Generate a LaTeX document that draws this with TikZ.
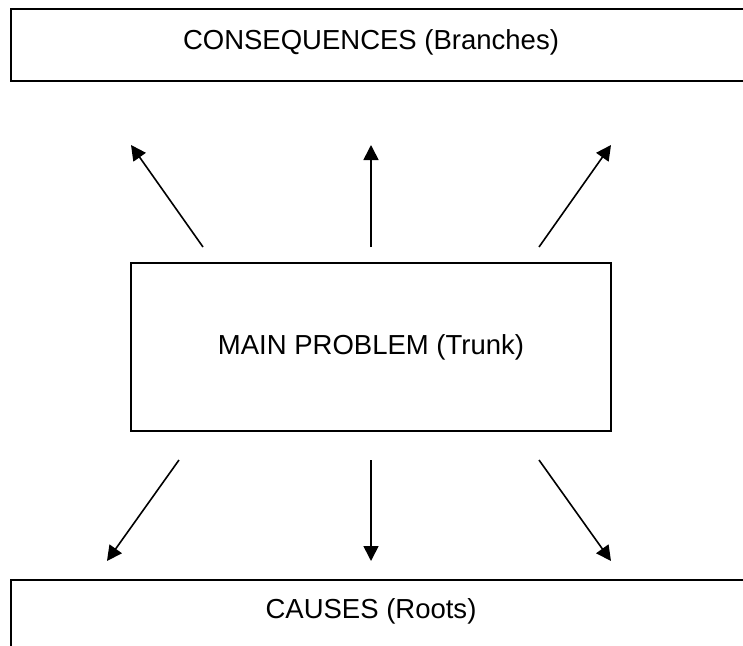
\documentclass[tikz,border=0pt]{standalone}
\usepackage{fontspec}
\setmainfont{Liberation Sans}
\usetikzlibrary{arrows.meta}
\begin{document}
\begin{tikzpicture}[x=1pt,y=-1pt,
  boxframe/.style={draw, line width=1.5pt, inner sep=0pt},
  lbl/.style={font=\fontsize{27.5}{33}\selectfont, inner sep=0pt},
  arr/.style={line width=1.6pt, -{Triangle[length=15pt,width=15pt]}}]
\useasboundingbox (0,0) rectangle (743,645);
\clip (0,0) rectangle (743,645);
% boxes
\node[boxframe, anchor=north west, minimum width=750pt, minimum height=72pt] (cons) at (10,8) {};
\node[lbl] (constext) at (371,42) {CONSEQUENCES (Branches)};
\node[boxframe, lbl, minimum width=480pt, minimum height=168pt] (main) at (371,347) {MAIN PROBLEM (Trunk)};
\node[boxframe, anchor=north west, minimum width=750pt, minimum height=100pt] (causes) at (10,579) {};
\node[lbl] (causestext) at (371,611) {CAUSES (Roots)};
% arrow ends
\coordinate (u1) at (203,247); \coordinate (u1t) at (131,145);
\coordinate (u2) at (371,247); \coordinate (u2t) at (371,145);
\coordinate (u3) at (539,247); \coordinate (u3t) at (611,145);
\coordinate (d1) at (179,460); \coordinate (d1t) at (107,561);
\coordinate (d2) at (371,460); \coordinate (d2t) at (371,561);
\coordinate (d3) at (539,460); \coordinate (d3t) at (611,561);
\draw[arr] (u1) -- (u1t);
\draw[arr] (u2) -- (u2t);
\draw[arr] (u3) -- (u3t);
\draw[arr] (d1) -- (d1t);
\draw[arr] (d2) -- (d2t);
\draw[arr] (d3) -- (d3t);
\end{tikzpicture}
\end{document}
